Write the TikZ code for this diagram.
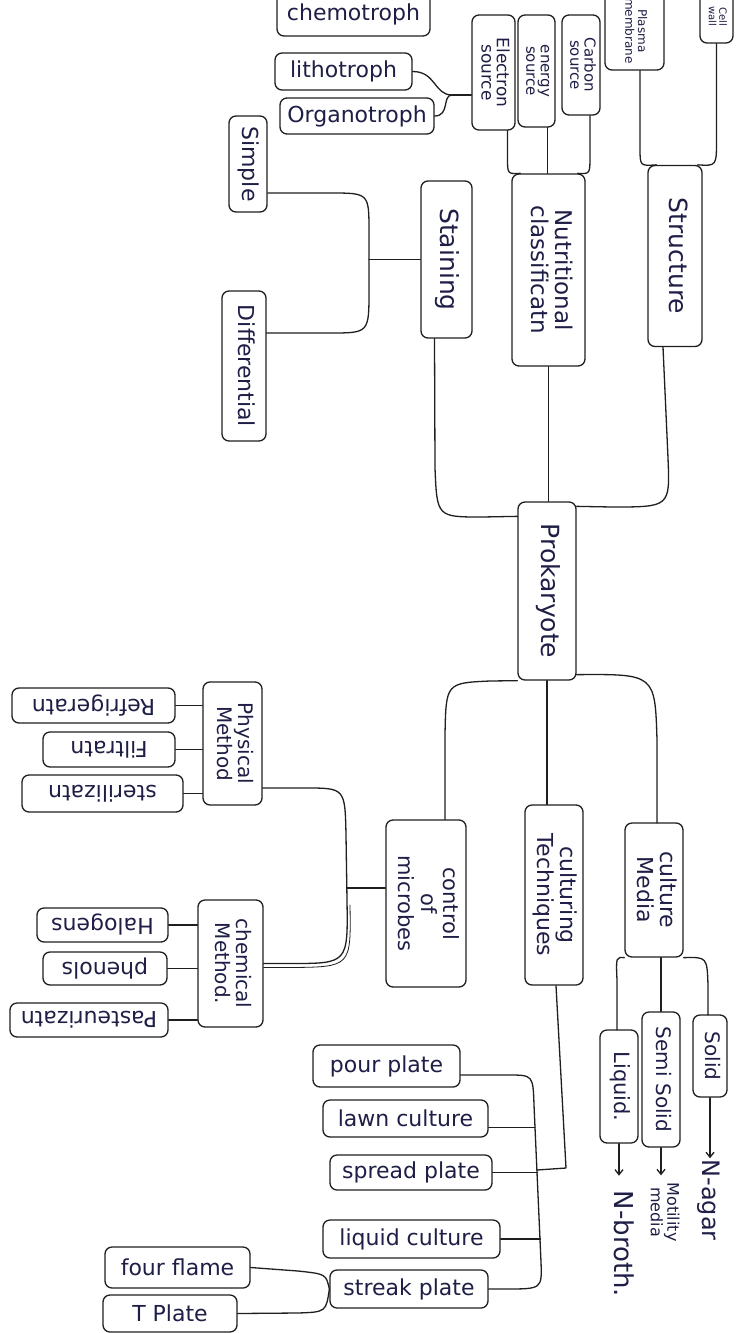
\documentclass[tikz,border=0pt]{standalone}
\usepackage{fontspec}
\setmainfont{DejaVu Sans}
\usetikzlibrary{calc,arrows.meta}
\definecolor{ink}{HTML}{1E1E46}
\definecolor{pen}{HTML}{1F1F1F}
\newcommand{\fsz}[2]{\fontsize{#1}{#2}\selectfont}
\newcommand{\rotv}[1]{\rotatebox{-90}{\begin{tabular}{@{}c@{}}#1\end{tabular}}}
\newcommand{\rotu}[1]{\rotatebox{180}{#1}}
\renewcommand{\arraystretch}{0.9}
\tikzset{
 box/.style={draw=pen, line width=1.3pt, rounded corners=7pt, inner sep=0pt, text=ink, font=\fsz{22}{24}},
 lbl/.style={inner sep=1pt, text=ink, font=\fsz{22}{24}},
 con/.style={draw=pen, line width=1.3pt, line cap=round, line join=round},
 arr/.style={con, -{Straight Barb[length=5pt,width=8pt]}},
}
\begin{document}
\begin{tikzpicture}[x=1pt,y=-1pt]
\fill[white] (0,0) rectangle (737,1333);
\useasboundingbox (0,0) rectangle (737,1333);

% ---------- centre ----------
\node[box, minimum width=58pt, minimum height=178pt, font=\fsz{25}{26}] (prok) at (547,591) {\rotv{Prokaryote}};

% ---------- upper branches ----------
\node[box, minimum width=54pt, minimum height=181pt, font=\fsz{25}{26}] (struct) at (675,256) {\rotv{Structure}};
\node[box, minimum width=73pt, minimum height=192pt, font=\fsz{23}{25}] (nutri) at (548.5,270) {\rotv{Nutritional\\classificatn}};
\node[box, minimum width=51pt, minimum height=157pt, font=\fsz{25}{26}] (stain) at (446.5,259.5) {\rotv{Staining}};
\node[box, minimum width=38pt, minimum height=96pt] (simple) at (248,164) {\rotv{Simple}};
\node[box, minimum width=44pt, minimum height=150pt] (diff) at (244,366) {\rotv{Differential}};

\node[box, minimum width=43pt, minimum height=115pt, font=\fsz{17}{17}] (elec) at (493.5,72.5) {\rotv{Electron\\source}};
\node[box, minimum width=37pt, minimum height=112pt, font=\fsz{15}{16}] (energy) at (536.5,71) {\rotv{energy\\source}};
\node[box, minimum width=38pt, minimum height=100pt, font=\fsz{15}{16}] (carbon) at (581,65) {\rotv{Carbon\\source}};
\node[box, minimum width=59pt, minimum height=78pt, font=\fsz{12}{13}] (pmem) at (634.5,31) {\rotv{Plasma\\membrane}};
\node[box, minimum width=33pt, minimum height=53pt, font=\fsz{10}{11}] (cwall) at (716.5,16.5) {\rotv{Cell\\wall}};

\node[box, minimum width=153pt, minimum height=44pt] (chemo) at (353.5,14) {chemotroph};
\node[box, minimum width=137pt, minimum height=37pt] (litho) at (343.5,71.5) {lithotroph};
\node[box, minimum width=154pt, minimum height=36pt] (organo) at (357,116) {Organotroph};

% ---------- lower branches ----------
\node[box, minimum width=80pt, minimum height=167pt, font=\fsz{21}{23}] (control) at (426,903.5) {\rotv{control\\of\\microbes}};
\node[box, minimum width=58pt, minimum height=180pt] (cult) at (554,895) {\rotv{culturing\\Techniques}};
\node[box, minimum width=58pt, minimum height=134pt] (media) at (654,890) {\rotv{culture\\Media}};

\node[box, minimum width=59pt, minimum height=123pt, font=\fsz{20}{22}] (physical) at (232.5,743.5) {\rotv{Physical\\Method}};
\node[box, minimum width=163pt, minimum height=35pt] (refrig) at (93.5,705.5) {\rotu{Refrigeratn}};
\node[box, minimum width=132pt, minimum height=35pt] (filtr) at (109,749.5) {\rotu{Filtratn}};
\node[box, minimum width=161pt, minimum height=37pt] (steril) at (102.5,793.5) {\rotu{sterilizatn}};

\node[box, minimum width=65pt, minimum height=127pt, font=\fsz{20}{22}] (chemical) at (230.5,963.5) {\rotv{chemical\\Method.}};
\node[box, minimum width=131pt, minimum height=34pt] (halo) at (102.5,925) {\rotu{Halogens}};
\node[box, minimum width=124pt, minimum height=33pt] (phenol) at (105,968.5) {\rotu{phenols}};
\node[box, minimum width=158pt, minimum height=34pt] (paste) at (89,1020) {\rotu{Pasteurizatn}};

\node[box, minimum width=34pt, minimum height=82pt, font=\fsz{20}{22}] (solid) at (710,1056) {\rotv{Solid}};
\node[box, minimum width=38pt, minimum height=135pt, font=\fsz{20}{22}] (semi) at (661,1079.5) {\rotv{Semi Solid}};
\node[box, minimum width=38pt, minimum height=113pt, font=\fsz{21}{22}] (liquid) at (619,1086.5) {\rotv{Liquid.}};
\node[lbl, font=\fsz{24}{25}] (nagar) at (708,1200) {\rotv{N-agar}};
\node[lbl, font=\fsz{16}{16}] (motil) at (663,1212) {\rotv{Motility\\media}};
\node[lbl, font=\fsz{26}{27}] (nbroth) at (621,1244) {\rotv{N-broth.}};

\node[box, minimum width=147pt, minimum height=42pt] (pour) at (386.5,1066) {pour plate};
\node[box, minimum width=165pt, minimum height=37pt] (lawn) at (405.5,1118.5) {lawn culture};
\node[box, minimum width=162pt, minimum height=35pt] (spread) at (411,1172.5) {spread plate};
\node[box, minimum width=177pt, minimum height=38pt] (liqcult) at (411.5,1239) {liquid culture};
\node[box, minimum width=158pt, minimum height=38pt] (streak) at (409,1289) {streak plate};
\node[box, minimum width=145pt, minimum height=41pt] (fourfl) at (177.5,1267.5) {four flame};
\node[box, minimum width=134pt, minimum height=37pt] (tplate) at (170,1313.5) {T Plate};

% ---------- connectors: upper ----------
\coordinate (sA) at ($(simple.east)+(0,29)$);
\coordinate (dA) at ($(diff.east)+(0,-33)$);
\coordinate (jS) at (369,259.5);
\draw[con] (sA) -- (330,193) .. controls (369,193) .. (369,232) -- (369,290) .. controls (369,333) .. (330,333) -- (dA);
\draw[con] (stain.west) -- (jS);

\coordinate (stB) at ($(stain.south)+(-12,0)$);
\coordinate (pW) at ($(prok.north west)+(0,15)$);
\draw[con] (stB) -- (435,468) .. controls (437,517) .. (482,517) -- (pW);
\draw[con] (nutri.south) -- (nutri.south |- prok.north);
\coordinate (suB) at ($(struct.south)+(-12,0)$);
\coordinate (pE1) at ($(prok.north east)+(0,5)$);
\draw[con] (suB) -- (668,458) .. controls (670,507) .. (612,507) -- (pE1);

\coordinate (eL) at ($(elec.south)+(14,0)$);
\coordinate (eM) at ($(energy.south)+(11,0)$);
\coordinate (eR) at ($(carbon.south)+(9,0)$);
\draw[con] (eL) -- (507.5,158) .. controls (507.5,174) .. ($(nutri.north west)+(9,0)$);
\draw[con] (eM) -- (eM |- nutri.north);
\draw[con] (eR) -- (590,156) .. controls (590,174) .. ($(nutri.north east)+(-8,0)$);

\coordinate (jT) at (452,95);
\draw[con] (litho.east) .. controls (436,71.5) and (434,95) .. (jT);
\draw[con] (organo.east) .. controls (450,116) and (442,95) .. (jT);
\draw[con] (jT) -- (jT -| elec.west);

\coordinate (pmB) at ($(pmem.south)+(5.5,0)$);
\coordinate (cwB) at (cwall.south);
\draw[con] (pmB) -- (640,148) .. controls (640,166) .. ($(struct.north west)+(9,0)$);
\draw[con] (cwB) -- (716.5,140) .. controls (716.5,166) .. ($(struct.north east)+(-5,0)$);

% ---------- connectors: lower ----------
\coordinate (ctN) at ($(control.north)+(19,0)$);
\draw[con] (prok.south west) -- (490,681) .. controls (446,683) .. (445,735) -- (ctN);
\draw[con] (prok.south) -- (prok.south |- cult.north);
\draw[con] ($(prok.south east)+(0,-6)$) .. controls (655,674) .. (657,740) -- (657,823);

\draw[con] (media.south west) .. controls (616,957) .. (617,980) -- (617,1030);
\draw[con] (semi.north |- media.south) -- (semi.north);
\draw[con] (media.south east) .. controls (707,957) .. (708,985) -- (708,1015);

\draw[arr] (solid.south) -- (solid.south |- nagar.north);
\draw[arr, shorten >=6pt] (semi.south) -- (semi.south |- motil.north);
\draw[arr, shorten >=14pt] (liquid.south) -- (liquid.south |- nbroth.north);

\coordinate (cuB) at ($(cult.south)+(2,0)$);
\coordinate (jC) at (537,1170);
\draw[con] (cuB) -- (566,1168) -- (jC);
\draw[con] ($(pour.east)+(0,9)$) -- (508,1075) .. controls (533,1075) .. (534,1105) -- (541,1262) .. controls (542,1289) .. (505,1289) -- (streak.east);
\draw[con] ($(lawn.east)+(0,9)$) -- (535,1127.5);
\draw[con] (spread.east) -- (537.5,1172.5);
\draw[con] (liqcult.east) -- (540.5,1239);
\draw[con] (fourfl.east) -- (298,1271) .. controls (326,1274) .. (streak.west);
\draw[con] (tplate.east) -- (298,1313) .. controls (326,1312) .. (streak.west);

\coordinate (pE) at ($(physical.east)+(0,44.5)$);
\draw[con] ($(control.west)+(0,-15.5)$) -- (347,888);
\draw[con] (pE) -- (305,788) .. controls (345,788) .. (346,835) -- (347,900) .. controls (348,963.5) .. (290,963.5) -- (chemical.east);
\draw[con, line width=0.8pt] (350,905) .. controls (351,967) .. (290,967.5) -- ($(chemical.east)+(0,4)$);

\draw[con] (refrig.east) -- (refrig.east -| physical.west);
\draw[con] (filtr.east) -- (filtr.east -| physical.west);
\draw[con] (steril.east) -- (steril.east -| physical.west);
\draw[con] (halo.east) -- (halo.east -| chemical.west);
\draw[con] (phenol.east) -- (phenol.east -| chemical.west);
\draw[con] (paste.east) -- (paste.east -| chemical.west);
\end{tikzpicture}
\end{document}
